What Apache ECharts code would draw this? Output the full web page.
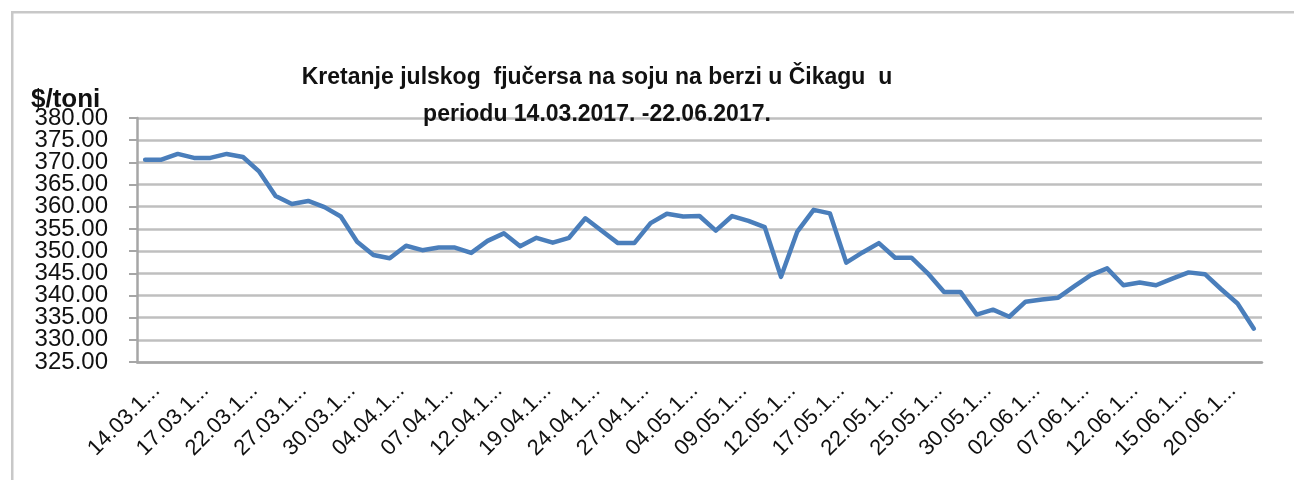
<!DOCTYPE html>
<html>
<head>
<meta charset="utf-8">
<script src="https://cdn.jsdelivr.net/npm/echarts@6/dist/echarts.min.js"></script>
<style>
html,body{margin:0;padding:0;background:#fff;}
#chart{width:1294px;height:480px;}
</style>
</head>
<body>
<div id="chart"></div>
<script>
const titleText = 'Kretanje julskog  fjučersa na soju na berzi u Čikagu  u\nperiodu 14.03.2017. -22.06.2017.';
const unitLabel = '$/toni';
const dates = [
  '14.03.17.','15.03.17.','16.03.17.','17.03.17.','20.03.17.','21.03.17.','22.03.17.','23.03.17.','24.03.17.',
  '27.03.17.','28.03.17.','29.03.17.','30.03.17.','31.03.17.','03.04.17.','04.04.17.','05.04.17.','06.04.17.',
  '07.04.17.','10.04.17.','11.04.17.','12.04.17.','13.04.17.','18.04.17.','19.04.17.','20.04.17.','21.04.17.',
  '24.04.17.','25.04.17.','26.04.17.','27.04.17.','28.04.17.','03.05.17.','04.05.17.','05.05.17.','08.05.17.',
  '09.05.17.','10.05.17.','11.05.17.','12.05.17.','15.05.17.','16.05.17.','17.05.17.','18.05.17.','19.05.17.',
  '22.05.17.','23.05.17.','24.05.17.','25.05.17.','26.05.17.','29.05.17.','30.05.17.','31.05.17.','01.06.17.',
  '02.06.17.','05.06.17.','06.06.17.','07.06.17.','08.06.17.','09.06.17.','12.06.17.','13.06.17.','14.06.17.',
  '15.06.17.','16.06.17.','19.06.17.','20.06.17.','21.06.17.','22.06.17.'
];
const prices = [
  370.6,370.6,371.9,371.0,371.0,371.9,371.2,367.9,362.4,
  360.6,361.3,359.9,357.8,352.1,349.1,348.4,351.2,350.2,
  350.8,350.8,349.6,352.3,354.0,351.1,353.0,351.9,353.0,
  357.4,354.6,351.8,351.8,356.3,358.4,357.8,357.9,354.6,
  357.9,356.8,355.4,344.2,354.4,359.3,358.5,347.4,349.7,
  351.8,348.5,348.5,345.0,340.8,340.8,335.7,336.8,335.2,
  338.6,339.1,339.5,342.1,344.6,346.1,342.3,342.9,342.3,
  343.8,345.2,344.8,341.4,338.2,332.5
];
const yMin = 325, yMax = 380, yStep = 5;
const yTickLabels = ['325.00','330.00','335.00','340.00','345.00','350.00','355.00','360.00','365.00','370.00','375.00','380.00'];

const chart = echarts.init(document.getElementById('chart'), null, {renderer:'canvas'});
chart.setOption({
  animation:false,
  backgroundColor:'#ffffff',
  graphic:[{
    type:'rect', left:11, top:11, z:-10,
    shape:{x:0,y:0,width:1400,height:600},
    style:{fill:'#fff', stroke:'#c8c8c8', lineWidth:2.5}
  }],
  title:[{
    text:titleText,
    left:592, top:54, textAlign:'center',
    textStyle:{fontFamily:'"Liberation Sans", Arial, sans-serif', fontSize:23, fontWeight:'bold', color:'#111', lineHeight:37}
  },{
    text:unitLabel,
    left:26, top:82,
    textStyle:{fontFamily:'"Liberation Sans", Arial, sans-serif', fontSize:26, fontWeight:'bold', color:'#111'}
  }],
  grid:{left:137, right:32, top:118, bottom:118, containLabel:false},
  xAxis:{
    type:'category', data:dates, boundaryGap:true,
    axisLine:{show:true, lineStyle:{color:'#a6a6a6', width:2.5}},
    axisTick:{show:false},
    axisLabel:{
      interval:2, rotate:45, margin:14,
      verticalAlign:'top', lineHeight:32,
      fontFamily:'"Liberation Sans", Arial, sans-serif', fontSize:22, color:'#111',
      formatter:v => v.slice(0,7)+'...'
    }
  },
  yAxis:[{
    type:'value', min:yMin, max:yMax, interval:yStep, position:'left',
    axisLine:{show:true, lineStyle:{color:'#a6a6a6', width:2.5}},
    axisTick:{show:true, length:8, inside:false, lineStyle:{color:'#a6a6a6', width:2}},
    splitLine:{show:true, lineStyle:{color:'#bfbfbf', width:2.5}},
    axisLabel:{show:false}
  },{
    type:'category', data:yTickLabels, boundaryGap:false, position:'left',
    axisLine:{show:false}, axisTick:{show:false}, splitLine:{show:false},
    axisLabel:{
      interval:0, margin:29,
      fontFamily:'"Liberation Sans", Arial, sans-serif', fontSize:24, color:'#111'
    }
  }],
  series:[{
    type:'line', data:prices, yAxisIndex:0, smooth:false, showSymbol:false,
    lineStyle:{color:'#4a7ebb', width:4.5, join:'round', cap:'round'},
    itemStyle:{color:'#4a7ebb'}
  }]
});
</script>
</body>
</html>
